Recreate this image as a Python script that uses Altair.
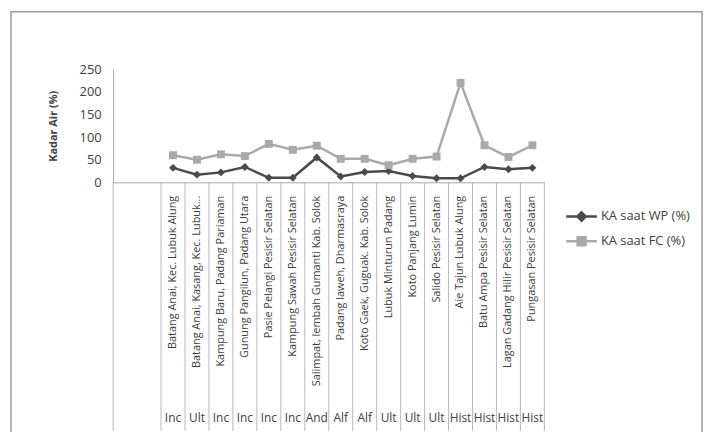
import altair as alt
import pandas as pd

# ---------------- data ----------------
categories = [
    "Batang Anai, Kec. Lubuk Alung",
    "Batang Anai,  Kasang, Kec. Lubuk...",
    "Kampung Baru, Padang Pariaman",
    "Gunung Pangilun,  Padang Utara",
    "Pasie Pelangi Pesisir Selatan",
    "Kampung Sawah Pesisir Selatan",
    "Salimpat, lembah Gumanti Kab. Solok",
    "Padang laweh, Dharmasraya",
    "Koto Gaek, Guguak. Kab. Solok",
    "Lubuk Minturun Padang",
    "Koto Panjang Lumin",
    "Salido Pesisir Selatan",
    "Aie Tajun Lubuk Alung",
    "Batu Ampa Pesisir Selatan",
    "Lagan Gadang Hilir  Pesisir Selatan",
    "Pungasan Pesisir Selatan",
]
soil_orders = ["Inc", "Ult", "Inc", "Inc", "Inc", "Inc", "And", "Alf",
               "Alf", "Ult", "Ult", "Ult", "Hist", "Hist", "Hist", "Hist"]
wp_values = [32, 17, 22, 34, 10, 10, 55, 13, 23, 25, 14, 9, 9, 34, 29, 32]
fc_values = [60, 50, 62, 58, 85, 72, 81, 52, 52, 38, 52, 57, 220, 82, 56, 82]
series_names = ["KA saat WP (%)", "KA saat FC (%)"]
y_ticks = [0, 50, 100, 150, 200, 250]
pad_slots = ["_pad0", "_pad1"]  # two empty leading category slots

# ---------------- tables ----------------
domain = pad_slots + categories
wp_df = pd.DataFrame({"category": categories, "series": series_names[0], "value": wp_values})
fc_df = pd.DataFrame({"category": categories, "series": series_names[1], "value": fc_values})
cat_df = pd.DataFrame({"category": categories, "order": soil_orders})
start_df = pd.DataFrame({"category": [pad_slots[0], categories[0]]})
frame_df = pd.DataFrame({"k": [0]})

PLOT_W, PLOT_H = 435, 114
TEXT = "#404040"
FONT = "Open Sans"
DARK = "#4a4a4a"
LIGHT = "#a9a9a9"

xscale = alt.Scale(domain=domain, paddingInner=0, paddingOuter=0)
yscale = alt.Scale(domain=[0, 250], nice=False)

x_axis = alt.Axis(
    title=None, labelAngle=270, labelAlign="right", labelBaseline="middle",
    labelPadding=13, ticks=False, domainColor="#a6a6a6", domainWidth=1,
    labelFont=FONT, labelFontSize=11, labelColor=TEXT, labelLimit=300,
    labelOverlap=False,
    labelExpr="indexof(datum.label, '_pad') == 0 ? '' : datum.label",
)
y_axis = alt.Axis(
    title="Kadar Air (%)", values=y_ticks, ticks=False, grid=False,
    domainColor="#a6a6a6", labelFont=FONT, labelFontSize=13, labelColor=TEXT,
    labelPadding=12, labelOverlap=False, labelFlush=False, titleFont=FONT,
    titleFontSize=11, titleFontWeight="bold", titleColor=TEXT, titlePadding=21,
)

wp_symbol = "M-1.55,0L1.55,0M0,-0.42L0.42,0L0,0.42L-0.42,0Z"
fc_symbol = "M-1.55,0L1.55,0M-0.4,-0.4L0.4,-0.4L0.4,0.4L-0.4,0.4Z"


def make_legend(symbol, fill, y):
    return alt.Legend(
        title=None, orient="none", legendX=461, legendY=y, padding=0,
        symbolType=symbol, symbolSize=400, symbolStrokeWidth=2.5,
        symbolFillColor=fill, labelOffset=8,
        labelFont=FONT, labelFontSize=13, labelColor=TEXT,
    )


def xenc(**kw):
    return alt.X("category:N", scale=xscale, sort=domain, axis=x_axis, **kw)


def yenc():
    return alt.Y("value:Q", scale=yscale, axis=y_axis)


wp_line = alt.Chart(wp_df).mark_line(strokeWidth=2.5).encode(
    x=xenc(), y=yenc(),
    color=alt.Color("series:N", scale=alt.Scale(domain=[series_names[0]], range=[DARK]),
                    legend=make_legend(wp_symbol, DARK, 137)),
)
fc_line = alt.Chart(fc_df).mark_line(strokeWidth=2.5).encode(
    x=xenc(), y=yenc(),
    color=alt.Color("series:N", scale=alt.Scale(domain=[series_names[1]], range=[LIGHT]),
                    legend=make_legend(fc_symbol, LIGHT, 162)),
)
wp_pts = alt.Chart(wp_df).mark_point(
    filled=True, opacity=1, size=64, shape="diamond", color=DARK
).encode(x=xenc(), y=yenc())
fc_pts = alt.Chart(fc_df).mark_point(
    filled=True, opacity=1, size=64, shape="square", color=LIGHT
).encode(x=xenc(), y=yenc())

dividers_end = alt.Chart(cat_df).mark_rule(color="#b8b8b8", strokeWidth=1).encode(
    x=xenc(bandPosition=1),
    y=alt.value(PLOT_H), y2=alt.value(PLOT_H + 251),
)
dividers_start = alt.Chart(start_df).mark_rule(color="#b8b8b8", strokeWidth=1).encode(
    x=xenc(bandPosition=0),
    y=alt.value(PLOT_H), y2=alt.value(PLOT_H + 251),
)

order_text = alt.Chart(cat_df).mark_text(
    font=FONT, fontSize=12, color=TEXT, baseline="middle", align="center"
).encode(
    x=xenc(),
    y=alt.value(PLOT_H + 238),
    text="order:N",
)

frame = alt.Chart(frame_df).mark_rect(
    fillOpacity=0, stroke="#999999", strokeWidth=1.5
).encode(
    x=alt.value(-103), x2=alt.value(594), y=alt.value(-58), y2=alt.value(390),
)

chart = alt.layer(
    frame, dividers_start, dividers_end, wp_line, fc_line, wp_pts, fc_pts, order_text
).resolve_scale(color="independent").properties(
    width=PLOT_W, height=PLOT_H, background="white",
    autosize=alt.AutoSizeParams(type="none"),
    padding={"left": 106, "top": 60, "right": 162, "bottom": 250},
).configure_view(stroke=None)

chart.save("out.html", embed_options={"renderer": "svg", "actions": False})
